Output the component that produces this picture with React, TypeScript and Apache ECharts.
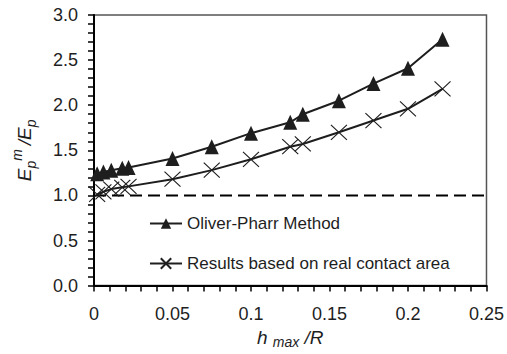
import React, { useEffect, useRef } from "react";
import * as echarts from "echarts";

const hOverR = [0.002, 0.006, 0.011, 0.018, 0.022, 0.05, 0.075, 0.1, 0.125, 0.133, 0.156, 0.178, 0.2, 0.222];
const oliverPharr = [1.24, 1.26, 1.28, 1.3, 1.31, 1.41, 1.54, 1.69, 1.81, 1.9, 2.05, 2.24, 2.41, 2.73];
const realContact = [1.01, 1.04, 1.07, 1.09, 1.1, 1.18, 1.28, 1.4, 1.54, 1.57, 1.7, 1.83, 1.96, 2.18];
const referenceLineX = [0, 0.2545];
const referenceLineY = [1, 1];
const seriesNames = ["Oliver-Pharr Method", "Results based on real contact area"];

const FONT = "'Liberation Sans', Arial, sans-serif";
const INK = "#1e1e1e";

export default function App() {
  const ref = useRef<HTMLDivElement>(null);
  useEffect(() => {
    if (!ref.current) return;
    const chart = echarts.init(ref.current, undefined, { renderer: "svg" });
    const pair = (ys: number[]) => hOverR.map((x, i) => [x, ys[i]]);
    chart.setOption({
      animation: false,
      backgroundColor: "#fff",
      textStyle: { fontFamily: FONT, color: INK },
      grid: {
        left: 94,
        top: 15,
        right: 16,
        bottom: 67,
        show: true,
        borderColor: "#555",
        borderWidth: 1.5,
        backgroundColor: "transparent",
      },
      legend: {
        orient: "vertical",
        left: 149,
        top: 215,
        padding: 0,
        itemWidth: 32,
        itemHeight: 13,
        itemGap: 23,
        data: seriesNames,
        textStyle: { fontFamily: FONT, fontSize: 17, color: INK, lineHeight: 17 },
      },
      xAxis: {
        type: "value",
        min: 0,
        max: 0.25,
        interval: 0.05,
        name: "{i|h }{sub|max}{i| /R}",
        nameLocation: "middle",
        nameGap: 36,
        nameTextStyle: {
          rich: {
            i: { fontFamily: FONT, fontSize: 19, fontStyle: "italic", color: INK, lineHeight: 24 },
            sub: { fontFamily: FONT, fontSize: 14, fontStyle: "italic", color: INK, lineHeight: 14, verticalAlign: "bottom" },
          },
        },
        axisLine: { show: true, onZero: false, lineStyle: { color: "#000", width: 2 } },
        axisTick: { show: true, length: 6, lineStyle: { color: "#000", width: 1.5 } },
        minorTick: { show: true, splitNumber: 5, length: 6, lineStyle: { color: "#000", width: 1.5 } },
        splitLine: { show: false },
        axisLabel: { fontFamily: FONT, fontSize: 18, color: INK, margin: 19 },
      },
      yAxis: {
        type: "value",
        min: 0,
        max: 3,
        interval: 0.5,
        name: "{i|E}{sub|p}{sup|m }{i|/E}{sub|p}",
        nameLocation: "middle",
        nameRotate: 90,
        nameGap: 56,
        nameTextStyle: {
          rich: {
            i: { fontFamily: FONT, fontSize: 19, fontStyle: "italic", color: INK, lineHeight: 28 },
            sub: { fontFamily: FONT, fontSize: 14, fontStyle: "italic", color: INK, lineHeight: 14, verticalAlign: "bottom" },
            sup: { fontFamily: FONT, fontSize: 14, fontStyle: "italic", color: INK, lineHeight: 14, verticalAlign: "top" },
          },
        },
        axisLine: { show: true, onZero: false, lineStyle: { color: "#000", width: 2 } },
        axisTick: { show: true, length: 6, lineStyle: { color: "#000", width: 1.5 } },
        minorTick: { show: true, splitNumber: 5, length: 6, lineStyle: { color: "#000", width: 1.5 } },
        splitLine: { show: false },
        axisLabel: {
          fontFamily: FONT,
          fontSize: 18,
          color: INK,
          margin: 16,
          formatter: (v: number) => v.toFixed(1),
        },
      },
      series: [
        {
          name: "reference",
          type: "line",
          data: referenceLineX.map((x, i) => [x, referenceLineY[i]]),
          symbol: "none",
          clip: false,
          silent: true,
          lineStyle: { color: "#000", width: 2, type: [12, 6] },
          z: 1,
        },
        {
          name: seriesNames[0],
          type: "line",
          data: pair(oliverPharr),
          symbol: "triangle",
          symbolSize: [14, 15],
          lineStyle: { color: INK, width: 2 },
          itemStyle: { color: INK },
          z: 3,
        },
        {
          name: seriesNames[1],
          type: "line",
          data: pair(realContact),
          symbol: "path://M0,0L10,10M10,0L0,10",
          symbolSize: [16, 15],
          lineStyle: { color: INK, width: 2 },
          itemStyle: { color: "none", borderColor: INK, borderWidth: 1.1 },
          z: 3,
        },
      ],
    });
    return () => chart.dispose();
  }, []);
  return (
    <div
      ref={ref}
      style={{ position: "fixed", left: 0, top: 0, width: 507, height: 354, background: "#fff" }}
    />
  );
}
